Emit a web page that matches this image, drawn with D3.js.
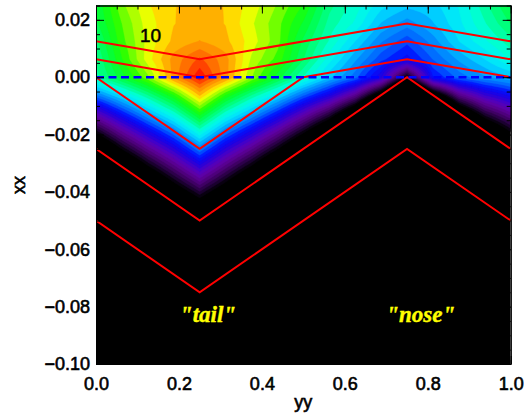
<!DOCTYPE html>
<html>
<head>
<meta charset="utf-8">
<script src="https://cdn.jsdelivr.net/npm/d3@7"></script>
<style>
  body { margin: 0; background: #fff; }
</style>
</head>
<body>
<div id="chart"></div>
<script>
// grid of the contoured field (colour index 0..1)
const gridX = [0, 0.0625, 0.125, 0.1875, 0.25, 0.3125, 0.375, 0.4375, 0.5,
               0.5625, 0.625, 0.6875, 0.75, 0.8125, 0.875, 0.9375, 1.0];
const gridY = [0.025, 0.01875, 0.0125, 0.00625, 0, -0.00625, -0.0125, -0.01875,
               -0.025, -0.03125, -0.0375, -0.04375, -0.05];
const field = [
  [0.67, 0.77, 0.83, 0.86, 0.87, 0.86, 0.82, 0.775, 0.72, 0.62, 0.57, 0.51, 0.48, 0.49, 0.53, 0.60, 0.67],
  [0.66, 0.75, 0.82, 0.86, 0.875, 0.86, 0.81, 0.76, 0.69, 0.60, 0.55, 0.47, 0.43, 0.47, 0.52, 0.58, 0.64],
  [0.63, 0.74, 0.815, 0.868, 0.89, 0.868, 0.82, 0.76, 0.66, 0.58, 0.50, 0.42, 0.37, 0.43, 0.50, 0.55, 0.60],
  [0.61, 0.72, 0.82, 0.90, 0.95, 0.90, 0.80, 0.74, 0.64, 0.54, 0.45, 0.37, 0.32, 0.39, 0.45, 0.50, 0.56],
  [0.60, 0.68, 0.77, 0.90, 0.995, 0.90, 0.78, 0.68, 0.58, 0.48, 0.40, 0.28, -0.01, 0.33, 0.40, 0.44, 0.47],
  [0.41, 0.51, 0.61, 0.72, 0.866, 0.72, 0.61, 0.51, 0.394, 0.29, 0.15, -0.08, -0.4, -0.10, 0.137, 0.25, 0.316],
  [0.21, 0.34, 0.46, 0.57, 0.716, 0.57, 0.46, 0.34, 0.208, 0.07, -0.12, -0.45, -0.8, -0.45, -0.125, 0.055, 0.16],
  [0.02, 0.17, 0.30, 0.42, 0.565, 0.42, 0.30, 0.17, 0.022, -0.14, -0.40, -0.8, -1, -0.8, -0.4, -0.14, 0.007],
  [-0.17, 0.003, 0.145, 0.27, 0.415, 0.27, 0.145, 0.003, -0.16, -0.35, -0.6, -1, -1, -1, -0.7, -0.33, -0.15],
  [-0.35, -0.17, -0.01, 0.125, 0.263, 0.125, -0.01, -0.17, -0.35, -0.6, -1, -1, -1, -1, -1, -0.6, -0.35],
  [-0.55, -0.35, -0.17, -0.02, 0.113, -0.02, -0.17, -0.35, -0.55, -1, -1, -1, -1, -1, -1, -1, -0.55],
  [-0.75, -0.55, -0.33, -0.17, -0.04, -0.17, -0.33, -0.55, -0.75, -1, -1, -1, -1, -1, -1, -1, -0.75],
  [-1, -0.75, -0.5, -0.33, -0.19, -0.33, -0.5, -0.75, -1, -1, -1, -1, -1, -1, -1, -1, -1]
];

// red zigzag lines
const lineX = [0, 0.25, 0.75, 1];
const lineA = [0.0125, 0.00625, 0.01875, 0.0125];
const lineB = [0.00625, 0, 0.0125, 0.00625];
const lineCX = [0, 0.25, 0.5, 0.75, 1];
const lineC = [0, -0.025, 0, 0.00625, 0];
const lineD = [-0.025, -0.05, 0, -0.025];
const lineE = [-0.05, -0.075, -0.025, -0.05];

const xTicks = [0, 0.2, 0.4, 0.6, 0.8, 1.0];
const yTicks = [-0.10, -0.08, -0.06, -0.04, -0.02, 0.00, 0.02];

// colour table (rainbow, black at the bottom)
const cmapStops = [0, 0.05, 0.11, 0.17, 0.22, 0.28, 0.34, 0.39, 0.45, 0.50, 0.56,
                   0.61, 0.67, 0.73, 0.77, 0.80, 0.83, 0.86, 0.89, 0.93, 0.97, 1.0];
const cmapColors = ["#000000", "#200038", "#480070", "#6000a0", "#5000c0", "#2000e0",
                    "#0010ff", "#0060ff", "#00a0ff", "#00e0ff", "#00ffe0", "#00ff90",
                    "#00ff40", "#20ff00", "#80ff00", "#c0ff00", "#ffff00", "#ffc000",
                    "#ffa000", "#ff7000", "#ff3000", "#ff0000"];

const width = 530, height = 418;
const mLeft = 96, mRight = 510.7, mTop = 5.5, mBottom = 364;
const sansFont = "'Liberation Sans', Arial, sans-serif";

const svg = d3.select("#chart").append("svg")
  .attr("width", width).attr("height", height)
  .style("font-family", sansFont);

const x = d3.scaleLinear().domain([0, 1]).range([mLeft, mRight]);
const y = d3.scaleLinear().domain([-0.10, 0.025]).range([mBottom, mTop]);
const cmap = d3.scaleLinear().domain(cmapStops).range(cmapColors).clamp(true);

svg.append("clipPath").attr("id", "plotclip")
  .append("rect").attr("x", mLeft).attr("y", mTop)
  .attr("width", mRight - mLeft).attr("height", mBottom - mTop);

const plot = svg.append("g").attr("clip-path", "url(#plotclip)");

plot.append("rect").attr("x", mLeft).attr("y", mTop)
  .attr("width", mRight - mLeft).attr("height", mBottom - mTop).attr("fill", "#000");

// contours: refine the grid bilinearly so the bands render smoothly
const f = 4;
const nx = gridX.length, ny = gridY.length;
const fx = (nx - 1) * f + 1, fy = (ny - 1) * f + 1;
const fine = new Array(fx * fy);
for (let j = 0; j < fy; j++) {
  const gj = j / f, j0 = Math.min(Math.floor(gj), ny - 2), tj = gj - j0;
  for (let i = 0; i < fx; i++) {
    const gi = i / f, i0 = Math.min(Math.floor(gi), nx - 2), ti = gi - i0;
    const a = field[j0][i0], b = field[j0][i0 + 1];
    const c = field[j0 + 1][i0], d = field[j0 + 1][i0 + 1];
    fine[j * fx + i] = (a * (1 - ti) + b * ti) * (1 - tj) + (c * (1 - ti) + d * ti) * tj;
  }
}

const nLev = 36, step = 1 / nLev;
const levels = d3.range(nLev).map(k => k * step);
const dxg = (gridX[1] - gridX[0]) / f, dyg = (gridY[1] - gridY[0]) / f;
const proj = d3.geoTransform({
  point(px, py) {
    this.stream.point(x(gridX[0] + (px - 0.5) * dxg), y(gridY[0] + (py - 0.5) * dyg));
  }
});
const contours = d3.contours().size([fx, fy]).thresholds(levels)(fine);

plot.append("g").selectAll("path")
  .data(contours)
  .join("path")
  .attr("d", d3.geoPath(proj))
  .attr("fill", d => cmap(d.value + step / 2))
  .attr("stroke", d => cmap(d.value + step / 2))
  .attr("stroke-width", 0.3);

// lines
const line = d3.line().x(d => x(d[0])).y(d => y(d[1]));
[[lineX, lineA], [lineX, lineB], [lineCX, lineC], [lineX, lineD], [lineX, lineE]].forEach(([xs, ys]) => {
  plot.append("path")
    .attr("d", line(xs.map((v, i) => [v, ys[i]])))
    .attr("fill", "none").attr("stroke", "#ff0000").attr("stroke-width", 2);
});

plot.append("path")
  .attr("d", line([[0, 0], [1, 0]]))
  .attr("stroke", "#0000ff").attr("stroke-width", 2.6)
  .attr("stroke-dasharray", "8,4.5");

// annotations
plot.append("text").attr("x", x(0.106)).attr("y", y(0.0124))
  .attr("font-size", 19).attr("fill", "#000")
  .attr("stroke", "#000").attr("stroke-width", 0.5).text("10");

[["\"tail\"", 0.27], ["\"nose\"", 0.783]].forEach(([t, xv]) => {
  plot.append("text").attr("x", x(xv)).attr("y", y(-0.0853))
    .attr("text-anchor", "middle")
    .style("font-family", "'Liberation Serif', 'Times New Roman', serif")
    .style("font-style", "italic").style("font-weight", "bold")
    .attr("font-size", 23).attr("fill", "#ffff00")
    .attr("stroke", "#ffff00").attr("stroke-width", 0.4).text(t);
});

// axes, ticks pointing inward
const minorX = d3.range(0, 1.0001, 0.05);
const minorY = d3.range(-0.10, 0.0251, 0.005);

function styleAxis(g) {
  g.selectAll("path").attr("stroke", "#000");
  g.selectAll("line").attr("stroke", "#000");
  g.selectAll("text").attr("font-size", 18).attr("fill", "#000")
    .attr("font-family", sansFont)
    .attr("stroke", "#000").attr("stroke-width", 0.6);
}

svg.append("g").attr("transform", `translate(0,${mBottom})`)
  .call(d3.axisBottom(x).tickValues(xTicks).tickFormat(d3.format(".1f"))
    .tickSizeInner(-8).tickSizeOuter(0).tickPadding(13))
  .call(styleAxis);
svg.append("g").attr("transform", `translate(0,${mBottom})`)
  .call(d3.axisBottom(x).tickValues(minorX).tickFormat("").tickSizeInner(-4).tickSizeOuter(0))
  .call(styleAxis);
svg.append("g").attr("transform", `translate(0,${mTop})`)
  .call(d3.axisTop(x).tickValues(xTicks).tickFormat("").tickSizeInner(-8).tickSizeOuter(0))
  .call(styleAxis);
svg.append("g").attr("transform", `translate(0,${mTop})`)
  .call(d3.axisTop(x).tickValues(minorX).tickFormat("").tickSizeInner(-4).tickSizeOuter(0))
  .call(styleAxis);

svg.append("g").attr("transform", `translate(${mLeft},0)`)
  .call(d3.axisLeft(y).tickValues(yTicks).tickFormat(d3.format(".2f"))
    .tickSizeInner(-8).tickSizeOuter(0).tickPadding(6))
  .call(styleAxis);
svg.append("g").attr("transform", `translate(${mLeft},0)`)
  .call(d3.axisLeft(y).tickValues(minorY).tickFormat("").tickSizeInner(-4).tickSizeOuter(0))
  .call(styleAxis);
svg.append("g").attr("transform", `translate(${mRight},0)`)
  .call(d3.axisRight(y).tickValues(yTicks).tickFormat("").tickSizeInner(-8).tickSizeOuter(0))
  .call(styleAxis);
svg.append("g").attr("transform", `translate(${mRight},0)`)
  .call(d3.axisRight(y).tickValues(minorY).tickFormat("").tickSizeInner(-4).tickSizeOuter(0))
  .call(styleAxis);

// axis titles
svg.append("text").attr("x", x(0.5)).attr("y", 408)
  .attr("text-anchor", "middle").attr("font-size", 18)
  .attr("stroke", "#000").attr("stroke-width", 0.6).text("yy");
svg.append("text").attr("transform", "translate(25,185) rotate(-90)")
  .attr("text-anchor", "middle").attr("font-size", 18)
  .attr("stroke", "#000").attr("stroke-width", 0.6).text("xx");
</script>
</body>
</html>
